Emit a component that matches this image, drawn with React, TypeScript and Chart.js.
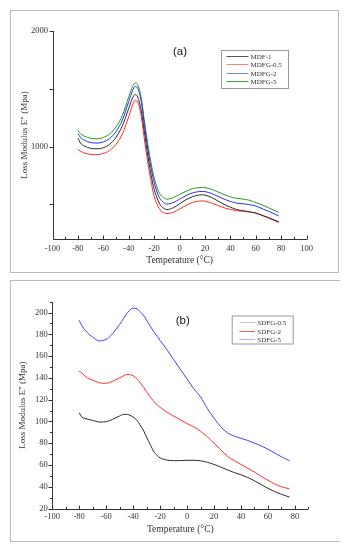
import React, { useEffect, useRef } from "react";
import { Chart, registerables } from "chart.js";
Chart.register(...registerables);

// ---------- Panel (a) data ----------
const tempsA = [-80, -78, -75, -70, -65, -60, -55, -50, -45, -40, -37, -35, -33, -30, -28, -25, -22, -20, -17, -15, -12, -10, -5, 0, 5, 10, 15, 18, 20, 25, 30, 35, 40, 45, 50, 55, 60, 65, 70, 75, 78];
const mdf1 = [1075, 1030, 1005, 985, 980, 990, 1020, 1080, 1180, 1330, 1420, 1450, 1430, 1300, 1150, 920, 730, 630, 535, 492, 463, 455, 470, 505, 540, 565, 580, 583, 580, 560, 530, 500, 475, 455, 445, 435, 425, 405, 385, 362, 350];
const mdfg05 = [975, 960, 945, 932, 930, 940, 965, 1020, 1110, 1260, 1360, 1400, 1385, 1250, 1085, 860, 670, 570, 485, 447, 425, 420, 430, 460, 490, 515, 528, 530, 528, 512, 490, 470, 455, 445, 440, 433, 423, 403, 382, 358, 342];
const mdfg2 = [1110, 1080, 1055, 1035, 1030, 1040, 1070, 1130, 1230, 1390, 1485, 1520, 1505, 1380, 1215, 980, 790, 690, 585, 543, 512, 502, 515, 545, 575, 598, 610, 612, 610, 595, 570, 545, 525, 510, 505, 497, 485, 462, 440, 415, 400];
const mdfg5 = [1140, 1110, 1090, 1072, 1067, 1078, 1110, 1170, 1270, 1430, 1520, 1550, 1535, 1410, 1245, 1020, 830, 730, 625, 582, 555, 545, 558, 585, 613, 635, 645, 646, 644, 630, 608, 585, 565, 552, 545, 535, 515, 495, 470, 445, 430];
const namesA = ["MDF-1", "MDFG-0.5", "MDFG-2", "MDFG-5"];
const xTicksA = [-100, -80, -60, -40, -20, 0, 20, 40, 60, 80, 100];
const xMarksA = [-100, -90, -80, -70, -60, -50, -40, -30, -20, -10, 0, 10, 20, 30, 40, 50, 60, 70, 80, 90, 100];
const yTicksA = [1000, 2000];
const yMarksA = [500, 1000, 1500, 2000];

// ---------- Panel (b) data ----------
const tempsB = [-80, -78, -75, -70, -65, -62, -58, -55, -50, -47, -45, -43, -40, -37, -35, -32, -30, -27, -25, -22, -20, -15, -10, -5, 0, 5, 10, 15, 20, 25, 30, 35, 40, 45, 50, 55, 60, 65, 70, 76];
const sdfg05 = [108, 104, 102.5, 101, 99.5, 99.5, 100.5, 102, 105, 106.5, 106.5, 106, 104, 101, 97, 91, 85.5, 78, 73, 68.5, 66.5, 64.5, 64, 64, 64.3, 64.3, 63.8, 62.5, 60.5, 58, 55.5, 53, 51, 48.5, 45.5, 42, 38.5, 35.5, 33, 30.5];
const sdfg2 = [146, 144.5, 141, 138, 135.5, 135, 135.5, 137, 140, 142, 143, 143, 142, 139, 136, 131, 127.5, 122, 119, 115, 113, 108.5, 105, 101.5, 98, 95, 91, 86, 80, 74, 68, 64, 60.5, 57, 53.5, 49.5, 46, 42.5, 40, 38];
const sdfg5 = [193, 188, 183, 177.5, 174, 174.5, 177, 181, 189, 195, 198.5, 201.5, 204, 203.5, 201, 197, 193, 187, 183, 178, 174.5, 166, 157, 148, 139, 130, 122.5, 112, 103, 95, 89.5, 86.5, 84.5, 82.5, 80, 77.5, 74.5, 71, 67.5, 64];
const namesB = ["SDFG-0.5", "SDFG-2", "SDFG-5"];
const xTicksB = [-100, -80, -60, -40, -20, 0, 20, 40, 60, 80];
const xMarksB = [-100, -90, -80, -70, -60, -50, -40, -30, -20, -10, 0, 10, 20, 30, 40, 50, 60, 70, 80, 90];
const yTicksB = [20, 40, 60, 80, 100, 120, 140, 160, 180, 200];
const yMarksB = [20, 30, 40, 50, 60, 70, 80, 90, 100, 110, 120, 130, 140, 150, 160, 170, 180, 190, 200, 210];

const SERIF = "'Liberation Serif', 'Times New Roman', serif";
const SANS = "'Liberation Sans', Arial, sans-serif";
const TEXT = "#333";

function makeDecor(o: any) {
  return {
    id: "decor",
    afterDraw(chart: any) {
      const { ctx, chartArea: ca, scales } = chart;
      const x = scales.x;
      const y = scales.y;
      ctx.save();
      ctx.strokeStyle = "#333";
      ctx.lineWidth = 1;
      ctx.beginPath();
      const L = Math.round(ca.left) + 0.5;
      const B = Math.round(ca.bottom) + 0.5;
      ctx.moveTo(L, Math.round(ca.top));
      ctx.lineTo(L, B);
      ctx.lineTo(Math.round(ca.right), B);
      o.xMarks.forEach((v: number) => {
        const px = Math.round(x.getPixelForValue(v)) + 0.5;
        const len = o.xMajor.indexOf(v) >= 0 ? 4 : 2.5;
        ctx.moveTo(px, B);
        ctx.lineTo(px, B - len);
      });
      o.yMarks.forEach((v: number) => {
        const py = Math.round(y.getPixelForValue(v)) + 0.5;
        const len = o.yMajor.indexOf(v) >= 0 ? 4 : 2.5;
        ctx.moveTo(L, py);
        ctx.lineTo(L - len, py);
      });
      ctx.stroke();

      // panel label
      ctx.fillStyle = "#111";
      ctx.font = `11.5px ${SANS}`;
      ctx.textAlign = "center";
      ctx.textBaseline = "middle";
      ctx.fillText(o.label, o.labelPos[0], o.labelPos[1]);

      // legend box
      const lg = o.legend;
      ctx.strokeStyle = "#999";
      ctx.lineWidth = 1;
      ctx.strokeRect(lg.box[0] + 0.5, lg.box[1] + 0.5, lg.box[2], lg.box[3]);
      ctx.font = `7px ${SERIF}`;
      ctx.textAlign = "left";
      ctx.textBaseline = "middle";
      for (let i = 0; i < lg.names.length; i++) {
        const ry = Math.round(lg.rows[i]) + 0.5;
        ctx.beginPath();
        ctx.strokeStyle = lg.colors[i];
        ctx.moveTo(lg.line[0], ry);
        ctx.lineTo(lg.line[1], ry);
        ctx.stroke();
        ctx.fillStyle = TEXT;
        ctx.fillText(lg.names[i], lg.textX, ry + 0.5);
      }
      ctx.restore();
    },
  };
}

function makeConfig(p: any) {
  return {
    type: "line",
    data: {
      datasets: p.names.map((n: string, i: number) => ({
        label: n,
        data: p.temps.map((t: number, j: number) => ({ x: t, y: p.series[i][j] })),
        borderColor: p.colors[i],
        borderWidth: 1,
        pointRadius: 0,
        fill: false,
        cubicInterpolationMode: "monotone",
      })),
    },
    options: {
      responsive: false,
      animation: false,
      devicePixelRatio: 1,
      layout: { padding: { top: p.padTop, right: p.padRight, left: 0, bottom: 0 } },
      plugins: {
        legend: { display: false },
        tooltip: { enabled: false },
      },
      scales: {
        x: {
          type: "linear",
          min: p.xMin,
          max: p.xMax,
          grid: { display: false, drawTicks: false },
          border: { display: false },
          afterBuildTicks: (s: any) => {
            s.ticks = p.xTicks.map((v: number) => ({ value: v }));
          },
          afterFit: (s: any) => {
            s.height = p.xHeight;
          },
          ticks: {
            autoSkip: false,
            maxRotation: 0,
            padding: p.xTickPad,
            color: TEXT,
            font: { family: SERIF, size: 8.5 },
            callback: (v: any) => String(v),
          },
          title: {
            display: true,
            text: "Temperature (°C)",
            color: TEXT,
            font: { family: SERIF, size: 9.5 },
            padding: { top: 0, bottom: p.xTitlePad },
          },
        },
        y: {
          type: "linear",
          min: p.yMin,
          max: p.yMax,
          grid: { display: false, drawTicks: false },
          border: { display: false },
          afterBuildTicks: (s: any) => {
            s.ticks = p.yTicks.map((v: number) => ({ value: v }));
          },
          afterFit: (s: any) => {
            s.width = p.yWidth;
          },
          ticks: {
            autoSkip: false,
            padding: 4.5,
            color: TEXT,
            font: { family: SERIF, size: 8.5 },
            callback: (v: any) => String(v),
          },
          title: {
            display: true,
            text: 'Loss Modulus E" (Mpa)',
            color: TEXT,
            font: { family: SERIF, size: 9 },
            padding: { top: p.yTitlePad, bottom: 0 },
          },
        },
      },
    },
    plugins: [makeDecor(p.decor)],
  };
}

function Panel({ cfg, w, h }: { cfg: any; w: number; h: number }) {
  const ref = useRef<HTMLCanvasElement>(null);
  useEffect(() => {
    const chart = new Chart(ref.current as HTMLCanvasElement, makeConfig(cfg) as any);
    return () => chart.destroy();
  }, []);
  return <canvas ref={ref} width={w} height={h} style={{ display: "block", width: w, height: h }} />;
}

const cfgA = {
  names: namesA,
  temps: tempsA,
  series: [mdf1, mdfg05, mdfg2, mdfg5],
  colors: ["#2b2b2b", "#ff2a2a", "#2a2aff", "#1f9a1f"],
  xMin: -100, xMax: 100, yMin: 200, yMax: 2000,
  xTicks: xTicksA, yTicks: yTicksA,
  padTop: 20, padRight: 31.3, xHeight: 33, yWidth: 41.5,
  xTickPad: 5, xTitlePad: 6, yTitlePad: 8.6,
  decor: {
    xMarks: xMarksA, xMajor: xTicksA, yMarks: yMarksA, yMajor: yMarksA,
    label: "(a)", labelPos: [169, 41],
    legend: {
      names: namesA,
      box: [210, 39, 67, 38],
      rows: [44.5, 53, 61.5, 70],
      line: [215.5, 237.5],
      textX: 239.5,
      colors: ["#555555", "#ff8080", "#8080ff", "#40a040"],
    },
  },
};

const cfgB = {
  names: namesB,
  temps: tempsB,
  series: [sdfg05, sdfg2, sdfg5],
  colors: ["#2b2b2b", "#ff3030", "#4040ff"],
  xMin: -100, xMax: 90, yMin: 20, yMax: 210,
  xTicks: xTicksB, yTicks: yTicksB,
  padTop: 20.7, padRight: 33.6, xHeight: 32.5, yWidth: 41.2,
  xTickPad: 3.5, xTitlePad: 6, yTitlePad: 6.6,
  decor: {
    xMarks: xMarksB, xMajor: xTicksB, yMarks: yMarksB, yMajor: yTicksB,
    label: "(b)", labelPos: [171.7, 39.7],
    legend: {
      names: namesB,
      box: [220.7, 34.5, 61, 28],
      rows: [41.3, 49.7, 58],
      line: [228.3, 244],
      textX: 246.3,
      colors: ["#c8c8c8", "#ff6060", "#b0b0ff"],
    },
  },
};

export default function App() {
  const frame = { position: "absolute" as const, border: "1px solid #bbb", boxSizing: "border-box" as const, background: "#fff" };
  return (
    <div style={{ position: "relative", width: 340, height: 540 }}>
      <div style={{ ...frame, left: 2, top: 2, width: 329, height: 263 }}>
        <Panel cfg={cfgA} w={327} h={261} />
      </div>
      <div style={{ ...frame, left: 2, top: 272, width: 333, height: 262 }}>
        <Panel cfg={cfgB} w={331} h={260} />
      </div>
    </div>
  );
}
